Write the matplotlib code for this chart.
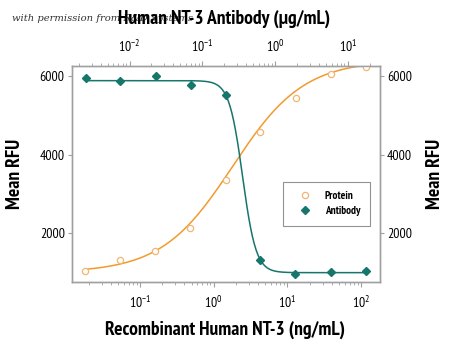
import numpy as np
import matplotlib
matplotlib.use("Agg")
import matplotlib.pyplot as plt
from matplotlib.lines import Line2D

# Recombinant protein concentration (ng/mL) and response
protein_conc = [0.018, 0.053, 0.16, 0.48, 1.45, 4.3, 13.0, 39.0, 115.0]
protein_rfu = [1050, 1314, 1542, 2127, 3355, 4585, 5449, 6043, 6221]

# Neutralizing antibody concentration (ug/mL) and response
antibody_conc = [0.0025, 0.0074, 0.023, 0.07, 0.21, 0.63, 1.9, 5.9, 17.6]
antibody_rfu = [5942, 5873, 6008, 5763, 5517, 1314, 973, 1009, 1042]

# Four-parameter logistic fits: (bottom, top, EC50, Hill slope)
protein_fit = (1000, 6400, 1.8, 0.9)
antibody_fit = (1000, 5880, 0.358, 4.7)

y_ticks = [2000, 4000, 6000]

ORANGE = "#F29A2E"
ORANGE_PT = "#F2B672"
TEAL = "#17766B"
SPINE = "#A0A0A0"
FONT = "PT Sans Narrow"

plt.rcParams["font.family"] = [FONT, "DejaVu Sans"]
plt.rcParams["mathtext.fontset"] = "custom"
plt.rcParams["mathtext.rm"] = FONT
plt.rcParams["mathtext.it"] = FONT
plt.rcParams["mathtext.bf"] = FONT + ":bold"


def four_pl(x, bottom, top, ec50, hill):
    return bottom + (top - bottom) / (1.0 + (ec50 / x) ** hill)


fig = plt.figure(figsize=(4.5, 3.47), dpi=100)
ax = fig.add_axes([0.1593, 0.1882, 0.6851, 0.6225])
ax2 = ax.twiny()

ax.set_xscale("log")
ax2.set_xscale("log")
ax.set_xlim(0.0118, 180)
ax2.set_xlim(0.0016, 27.7)
ax.set_ylim(770, 6260)

# protein curve on the bottom (ng/mL) axis
xp = np.logspace(np.log10(min(protein_conc)), np.log10(max(protein_conc)), 300)
ax.plot(xp, four_pl(xp, *protein_fit), color=ORANGE, lw=1.1, zorder=2)
ax.plot(protein_conc, protein_rfu, ls="none", marker="o", ms=4.5,
        mfc="white", mec=ORANGE_PT, mew=0.9, zorder=3)

# antibody curve on the top (ug/mL) axis, decreasing response
xa = np.logspace(np.log10(min(antibody_conc)), np.log10(max(antibody_conc)), 300)
b, t, e, h = antibody_fit
ax2.plot(xa, b + (t - b) / (1.0 + (xa / e) ** h), color=TEAL, lw=1.1, zorder=2)
ax2.plot(antibody_conc, antibody_rfu, ls="none", marker="D", ms=4.4,
         mfc=TEAL, mec=TEAL, zorder=3)

for a in (ax, ax2):
    for s in a.spines.values():
        s.set_color(SPINE)
        s.set_linewidth(1.0)

ax.set_yticks(y_ticks)
ax.set_yticklabels([str(v) for v in y_ticks])
ax.tick_params(axis="y", which="both", direction="out", length=3, width=0.8,
               color=SPINE, labelsize=10, pad=2,
               left=True, right=True, labelleft=True, labelright=True)
ax.tick_params(axis="x", which="major", direction="out", length=3.5, width=0.8,
               color=SPINE, labelsize=10, pad=6)
ax.tick_params(axis="x", which="minor", direction="out", length=2.5, width=0.6,
               color=SPINE)
ax2.tick_params(axis="x", which="major", direction="out", length=3.5, width=0.8,
                color=SPINE, labelsize=10, pad=4)
ax2.tick_params(axis="x", which="minor", direction="out", length=2.5, width=0.6,
                color=SPINE)

LABEL = dict(fontsize=14, fontweight="bold", ha="center", va="center")
fig.text(0.5, 0.049, "Recombinant Human NT-3 (ng/mL)", **LABEL)
fig.text(0.033, 0.5, "Mean RFU", rotation=90, **LABEL)
fig.text(0.9656, 0.5, "Mean RFU", rotation=90, **LABEL)

# faint credit line sitting underneath the top axis title
fig.text(0.026, 0.946, "with permission from R&D Systems",
         family=["DejaVu Serif"], style="italic", fontsize=7.2,
         color="#333333", va="center", ha="left", zorder=0)
fig.text(0.498, 0.947, "Human NT-3 Antibody (\u00b5g/mL)", zorder=5, **LABEL)

handles = [
    Line2D([], [], ls="none", marker="o", ms=4.5, mfc="white",
           mec=ORANGE_PT, mew=0.9, label="Protein"),
    Line2D([], [], ls="none", marker="D", ms=4.4, mfc=TEAL, mec=TEAL,
           label="Antibody"),
]
leg = ax.legend(handles=handles, loc="upper left",
                bbox_to_anchor=(0.686, 0.463), fontsize=8, frameon=True,
                fancybox=False, borderpad=0.85, handletextpad=0.7,
                labelspacing=0.45, borderaxespad=0, handlelength=2.2)
leg.get_frame().set_edgecolor("#777777")
leg.get_frame().set_linewidth(0.8)
for txt in leg.get_texts():
    txt.set_fontweight("bold")

fig.savefig("out.png", dpi=100)
